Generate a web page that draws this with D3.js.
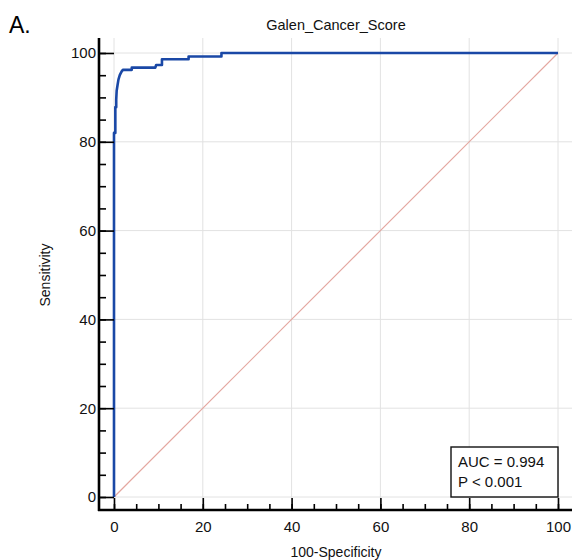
<!DOCTYPE html>
<html>
<head>
<meta charset="utf-8">
<script src="https://cdn.jsdelivr.net/npm/d3@7"></script>
<style>
body { margin: 0; background: #fff; }
svg { font-family: "Liberation Sans", Arial, sans-serif; }
</style>
</head>
<body>
<div id="roc"></div>
<script>
// ROC curve points: [100-Specificity, Sensitivity]
var fpr = [0, 0, 0.3, 0.3, 0.5, 0.5, 0.6, 0.8, 1.0, 1.3, 1.7, 2.0, 4.0, 4.0, 9.3, 9.5, 10.8, 10.8, 16.8, 16.8, 24.2, 24.2, 100];
var tpr = [0, 82, 82, 87.8, 87.8, 89.5, 91.5, 92.8, 94.0, 95.0, 95.8, 96.2, 96.2, 96.7, 96.7, 97.3, 97.3, 98.6, 98.6, 99.2, 99.2, 100, 100];
var majorTicks = [0, 20, 40, 60, 80, 100];
var minorTicks = d3.range(0, 101, 5);
var title = "Galen_Cancer_Score";
var statLines = ["AUC = 0.994", "P < 0.001"];

var w = 572, h = 560;
var svg = d3.select("#roc").append("svg")
  .attr("width", w)
  .attr("height", h);

var x = d3.scaleLinear().domain([0, 100]).range([114, 558]);
var y = d3.scaleLinear().domain([0, 100]).range([497, 53]);

// grid
svg.append("g").selectAll("line.h")
  .data(majorTicks).enter().append("line")
  .attr("x1", 99).attr("x2", 572)
  .attr("y1", function(d) { return y(d); })
  .attr("y2", function(d) { return y(d); })
  .attr("stroke", "#e2e2e2").attr("stroke-width", 1);
svg.append("g").selectAll("line.v")
  .data(majorTicks).enter().append("line")
  .attr("y1", 38).attr("y2", 510)
  .attr("x1", function(d) { return x(d); })
  .attr("x2", function(d) { return x(d); })
  .attr("stroke", "#e2e2e2").attr("stroke-width", 1);

// reference diagonal
svg.append("line")
  .attr("x1", x(0)).attr("y1", y(0))
  .attr("x2", x(100)).attr("y2", y(100))
  .attr("stroke", "#e4a7a0").attr("stroke-width", 1.2);

// ROC curve
var pts = fpr.map(function(d, i) { return [d, tpr[i]]; });
var line = d3.line()
  .x(function(d) { return x(d[0]); })
  .y(function(d) { return y(d[1]); });
svg.append("path")
  .datum(pts)
  .attr("d", line)
  .attr("fill", "none")
  .attr("stroke", "#1a48a6")
  .attr("stroke-width", 2.6)
  .attr("stroke-linejoin", "round");

// y axis
var yMinor = svg.append("g").attr("transform", "translate(99,0)")
  .call(d3.axisLeft(y).tickValues(minorTicks).tickSizeInner(-7).tickSizeOuter(0).tickFormat(""));
var yMajor = svg.append("g").attr("transform", "translate(99,0)")
  .call(d3.axisLeft(y).tickValues(majorTicks).tickSizeInner(-15).tickSizeOuter(0).tickPadding(3));

// x axis
var xMinor = svg.append("g").attr("transform", "translate(0,510)")
  .call(d3.axisBottom(x).tickValues(minorTicks).tickSizeInner(-6).tickSizeOuter(0).tickFormat(""));
var xMajor = svg.append("g").attr("transform", "translate(0,510)")
  .call(d3.axisBottom(x).tickValues(majorTicks).tickSizeInner(-12).tickSizeOuter(0).tickPadding(11));

svg.selectAll(".domain").remove();
svg.selectAll(".tick line").attr("stroke", "#000").attr("stroke-width", 1.6);
svg.selectAll(".tick text")
  .attr("fill", "#111")
  .style("font-family", "Liberation Sans, Arial, sans-serif")
  .style("font-size", "15px");

// axis lines
svg.append("line").attr("x1", 99).attr("x2", 99).attr("y1", 38).attr("y2", 511)
  .attr("stroke", "#000").attr("stroke-width", 2.6);
svg.append("line").attr("x1", 98).attr("x2", 572).attr("y1", 510).attr("y2", 510)
  .attr("stroke", "#000").attr("stroke-width", 2.6);

// titles
svg.append("text")
  .attr("x", 336).attr("y", 30)
  .attr("text-anchor", "middle")
  .style("font-size", "14.5px")
  .attr("fill", "#111")
  .text(title);

svg.append("text")
  .attr("x", 9).attr("y", 33)
  .style("font-size", "23px")
  .attr("fill", "#000")
  .text("A.");

svg.append("text")
  .attr("transform", "translate(50,275) rotate(-90)")
  .attr("text-anchor", "middle")
  .style("font-size", "14px")
  .attr("fill", "#111")
  .text("Sensitivity");

svg.append("text")
  .attr("x", 336).attr("y", 557)
  .attr("text-anchor", "middle")
  .style("font-size", "14px")
  .attr("fill", "#111")
  .text("100-Specificity");

// AUC box
svg.append("rect")
  .attr("x", 451).attr("y", 447)
  .attr("width", 107).attr("height", 50)
  .attr("fill", "#fff")
  .attr("stroke", "#111").attr("stroke-width", 1.4);

svg.selectAll("text.stat")
  .data(statLines).enter().append("text")
  .attr("class", "stat")
  .attr("x", 458)
  .attr("y", function(d, i) { return 467 + i * 20; })
  .style("font-size", "15px")
  .attr("fill", "#111")
  .text(function(d) { return d; });
</script>
</body>
</html>
